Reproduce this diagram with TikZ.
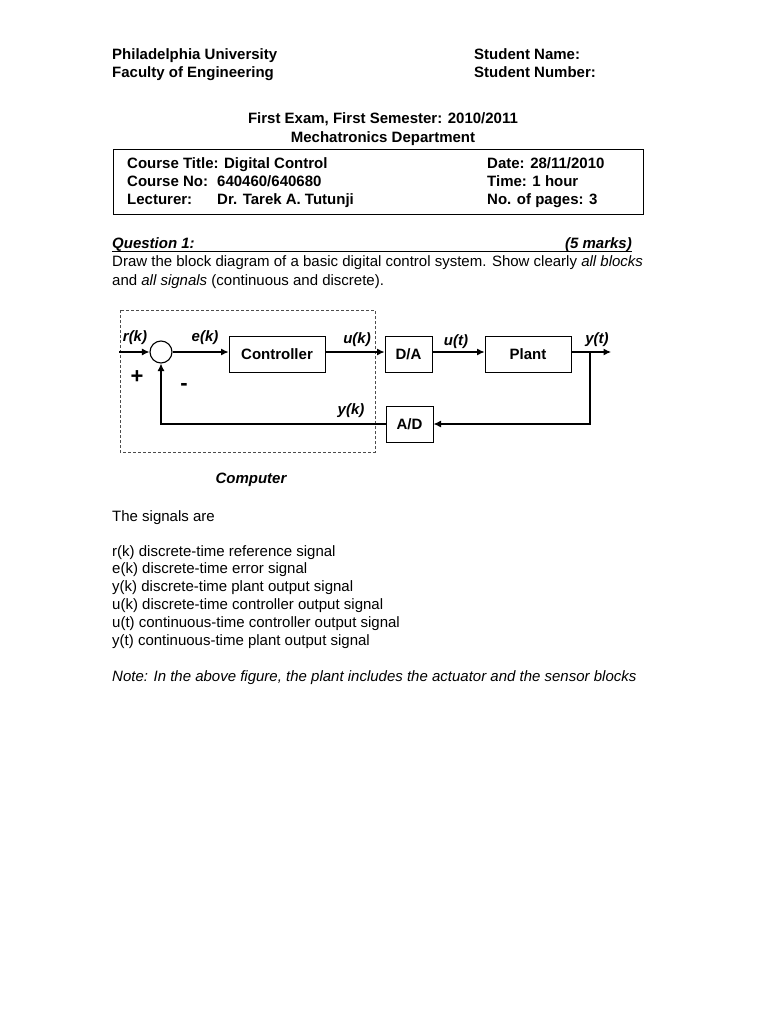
\documentclass[tikz,border=0pt]{standalone}
\usepackage{fontspec}
\setmainfont{Liberation Sans}
\usetikzlibrary{arrows.meta}
\begin{document}
\begin{tikzpicture}[x=1pt,y=-1pt,
  txt/.style={anchor=base west,inner sep=0pt,font=\fontsize{15}{18}\selectfont},
  btxt/.style={txt,font=\fontsize{15}{18}\selectfont\bfseries},
  bitxt/.style={txt,font=\fontsize{15}{18}\selectfont\bfseries\itshape},
  blk/.style={draw,line width=1pt,minimum width=#1,minimum height=36pt,inner sep=0pt,font=\fontsize{15}{18}\selectfont\bfseries},
  sig/.style={anchor=base,inner sep=0pt,font=\fontsize{15}{18}\selectfont\bfseries\itshape},
  wire/.style={line width=1.1pt},
  arr/.style={wire,-{Latex[length=7.5pt,width=7pt]}}]
\useasboundingbox (0,0) rectangle (768,1024);
\fill[white] (0,0) rectangle (768,1024);
% header
\node[btxt] (uni) at (112,59.5) {Philadelphia University};
\node[btxt] (fac) at (112,77.5) {Faculty of Engineering};
\node[btxt] (sname) at (474,59.5) {Student Name:};
\node[btxt] (snum) at (474,77.5) {Student Number:};
\node[btxt,anchor=base] (exam) at (383,123.5) {First Exam, First Semester: 2010/2011};
\node[btxt,anchor=base] (dept) at (383,142.5) {Mechatronics Department};
\draw[line width=1pt] (113,150) rectangle (643,215);
\node[btxt] (ct) at (127,168.5) {Course Title: Digital Control};
\node[btxt] (cn) at (127,186.5) {Course No:};
\node[btxt] (cnv) at (217,186.5) {640460/640680};
\node[btxt] (lec) at (127,204.5) {Lecturer:};
\node[btxt] (lecv) at (217,204.5) {Dr. Tarek A. Tutunji};
\node[btxt] (date) at (487,168.5) {Date: 28/11/2010};
\node[btxt] (time) at (487,186.5) {Time: 1 hour};
\node[btxt] (pages) at (487,204.5) {No. of pages: 3};
% question
\node[bitxt] (q) at (112,248.5) {Question 1:};
\node[bitxt,anchor=base east] (marks) at (632,248.5) {(5 marks)};
\draw[line width=1.2pt] (112,251.5) -- (632,251.5);
\node[txt] (l1) at (112,266.5) {Draw the block diagram of a basic digital control system. Show clearly \textit{all blocks}};
\node[txt] (l2) at (112,285.5) {and \textit{all signals} (continuous and discrete).};
% diagram
\draw[line width=1pt,black!70,dash pattern=on 3pt off 2pt] (120,310) rectangle (375,452);
\coordinate (in) at (119,352);
\node[draw,wire,circle,minimum size=22pt,inner sep=0pt] (sum) at (161,352) {};
\node[blk=96pt] (ctrl) at (277,354) {Controller};
\node[blk=47pt] (da) at (408.5,354) {D/A};
\node[blk=86pt] (plant) at (528,354) {Plant};
\node[blk=47pt] (ad) at (409.5,424) {A/D};
\coordinate (out) at (611,352);
\coordinate (br) at (590,352);
\draw[arr] (in) -- (sum);
\draw[arr] (sum) -- (ctrl.west |- sum);
\draw[arr] (ctrl.east |- sum) -- (da.west |- sum);
\draw[arr] (da.east |- sum) -- (plant.west |- sum);
\draw[arr] (plant.east |- sum) -- (out);
\draw[arr] (br) |- (ad.east);
\draw[arr] (ad.west) -| (sum.south);
\node[sig] (rk) at (135,341.5) {r(k)};
\node[sig] (ek) at (205,341.5) {e(k)};
\node[sig] (uk) at (357,343) {u(k)};
\node[sig] (ut) at (456,345) {u(t)};
\node[sig] (yt) at (597,343) {y(t)};
\node[sig] (yk) at (351,414) {y(k)};
\node[inner sep=0pt,font=\fontsize{22}{22}\selectfont\bfseries] (plus) at (137,377) {+};
\node[inner sep=0pt,font=\fontsize{22}{22}\selectfont\bfseries] (minus) at (184,387) {-};
\node[sig] (comp) at (251,483) {Computer};
% signals
\node[txt] (s0) at (112,521.5) {The signals are};
\node[txt] (s1) at (112,556.5) {r(k) discrete-time reference signal};
\node[txt] (s2) at (112,573.5) {e(k) discrete-time error signal};
\node[txt] (s3) at (112,591.5) {y(k) discrete-time plant output signal};
\node[txt] (s4) at (112,609.5) {u(k) discrete-time controller output signal};
\node[txt] (s5) at (112,627.5) {u(t) continuous-time controller output signal};
\node[txt] (s6) at (112,645.5) {y(t) continuous-time plant output signal};
\node[txt,font=\fontsize{15}{18}\selectfont\itshape] (note) at (112,681.5) {Note: In the above figure, the plant includes the actuator and the sensor blocks};
\end{tikzpicture}
\end{document}
